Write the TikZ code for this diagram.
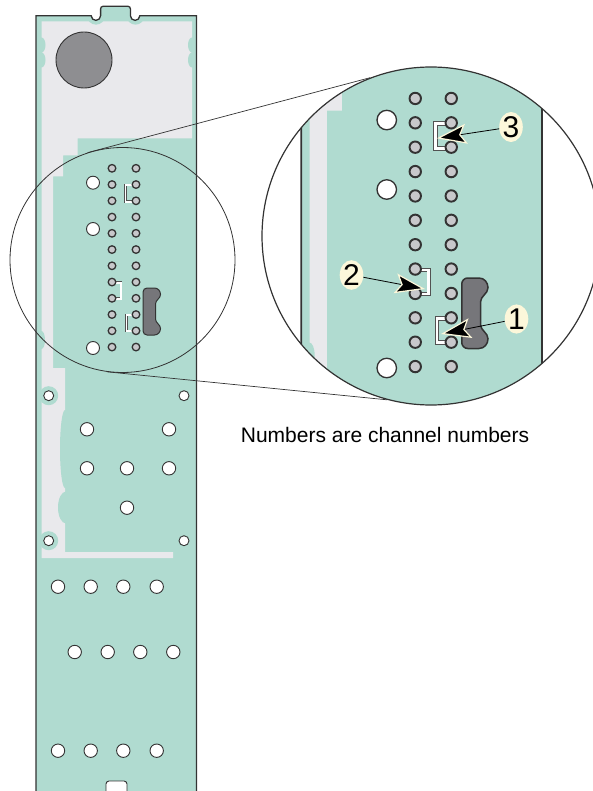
\documentclass[tikz,border=0pt]{standalone}
\usepackage{fontspec}
\setmainfont{Liberation Sans}
\usetikzlibrary{arrows.meta,shapes.geometric}
\definecolor{pcbgreen}{RGB}{176,219,208}
\definecolor{pcbgrey}{RGB}{233,233,236}
\definecolor{edge}{RGB}{51,51,51}
\definecolor{discgrey}{RGB}{142,142,145}
\definecolor{slotgrey}{RGB}{118,118,122}
\definecolor{padgrey}{RGB}{200,200,203}
\definecolor{cream}{RGB}{252,247,218}

\tikzset{
  hole/.style={draw=edge,fill=white,line width=0.9pt},
  pin/.style={draw=edge,fill=padgrey,line width=1.3pt},
  jumper/.style={draw=edge!85,double=white,double distance=1.8pt,line width=0.5pt},
  tag/.style={ellipse,fill=cream,inner sep=0pt,minimum width=21pt,minimum height=28pt,
    font=\fontsize{30}{30}\selectfont},
  callout/.style={-{Stealth[length=30pt,width=20pt,inset=6pt,color=cream,fill=black,line width=1.2pt]},
    black,line width=0.8pt},
  link/.style={edge,line width=0.7pt}
}

\newcommand{\boardpath}{(36,805) -- (36,15.7) -- (91.2,15.7) arc[start angle=180,end angle=0,radius=4.7]
    [rounded corners=2.5] -- (100.6,6.3) -- (130.4,6.3) [sharp corners] -- (130.4,15.7)
    arc[start angle=180,end angle=0,radius=4.7] -- (196.5,15.7) -- (196.5,805)}

\newcommand{\pcb}{%
  \begin{scope}
    \clip \boardpath -- cycle;
    \fill[pcbgreen] \boardpath -- cycle;
    \fill[pcbgrey] (41.5,21.5) -- (192,21.5) -- (192,138.3) -- (77.7,138.3) -- (77.7,155.5)
      -- (63,155.5) -- (63,176.5) -- (53,176.5) -- (53,368) -- (65,368) -- (65,552)
      -- (173,552) -- (173,558) -- (41.5,558) -- cycle;
    \fill[pcbgreen] (96,15.7) circle[radius=9] (135.5,15.7) circle[radius=9]
      (41.5,45) ellipse[x radius=4,y radius=7.5] (41.5,60) ellipse[x radius=4,y radius=7.5]
      (192,45) ellipse[x radius=4,y radius=7.5] (192,60) ellipse[x radius=4,y radius=7.5]
      (41.5,340) ellipse[x radius=3.5,y radius=9]
      (65,449) ellipse[x radius=5,y radius=39] (66,507.5) ellipse[x radius=8,y radius=16]
      (48.7,395.7) circle[radius=9.5] (48.7,540.7) circle[radius=9.5];
  \end{scope}
  \draw[edge,fill=discgrey,line width=0.9pt] (84,60) circle[radius=28];
  \draw[edge,line width=1.3pt] \boardpath;
  \draw[edge,fill=slotgrey,line width=1pt] (147,288) -- (154.5,288) .. controls (158,288) and (160.5,291) .. (160.5,294.5)
    .. controls (160.5,298.5) and (155.5,300) .. (155.5,304) -- (155.5,319)
    .. controls (155.5,323) and (160.5,324.5) .. (160.5,328.5)
    .. controls (160.5,332) and (158,335) .. (154.5,335) -- (147,335)
    .. controls (144.8,335) and (143,333.2) .. (143,331) -- (143,292)
    .. controls (143,289.8) and (144.8,288) .. (147,288) -- cycle;
  \draw[jumper] (136,185) -- (125.5,185) -- (125.5,201.7) -- (136,201.7);
  \draw[jumper] (112,282.7) -- (121,282.7) -- (121,298.7) -- (112,298.7);
  \draw[jumper] (136,315) -- (126.5,315) -- (126.5,331) -- (136,331);
  \foreach \r in {0,...,11}
    \foreach \c in {112,136}
      \draw[pin] (\c,{168.3+16.25*\r}) circle[radius=3.8];
  \foreach \y in {182.7,229,348}
    \draw[hole] (93,\y) circle[radius=6.5];
  \foreach \x/\y in {48.7/395.7,48.7/540.7,184/395.7,184/540.7}
    \draw[hole] (\x,\y) circle[radius=5];
  \foreach \x/\y in {87/429.3,169/429.3,87/468.3,127/468.3,169/468.3,127/507.7}
    \draw[hole] (\x,\y) circle[radius=6.7];
  \foreach \x in {58,90.7,123.3,156.7} {
    \draw[hole] (\x,586.7) circle[radius=6.7];
    \draw[hole] (\x,750.7) circle[radius=6.7];
  }
  \foreach \x in {74.7,107.7,140.3,173.3}
    \draw[hole] (\x,652) circle[radius=6.7];
  \draw[hole,rounded corners=3] (106,805) rectangle (127,781);
}

\begin{document}
\begin{tikzpicture}[x=1pt,y=-1pt]
  \useasboundingbox (0,0) rectangle (592,791);
  \pcb
  \node[circle,draw=edge,line width=0.8pt,inner sep=0pt,minimum size=225pt] (loupe) at (122.5,260) {};
  \begin{scope}
    \clip (431,236) circle[radius=169];
    \fill[white] (431,236) circle[radius=169];
    \begin{scope}[transform canvas={shift={(247.25,-154)},scale=1.5}]
      \pcb
    \end{scope}
  \end{scope}
  \node[circle,draw=edge,line width=1.2pt,inner sep=0pt,minimum size=338pt] (zoomview) at (431,236) {};
  \path[link] (loupe.108) edge (zoomview.111)
              (loupe.262) edge (zoomview.255);
  \node[tag] (ch3) at (511,127) {3};
  \node[tag] (ch2) at (351.5,275) {2};
  \node[tag] (ch1) at (516.5,319) {1};
  \coordinate (j3) at (436.7,138.3);
  \coordinate (j2) at (425,289);
  \coordinate (j1) at (441,334);
  \draw[callout] (ch3) -- (j3);
  \draw[callout] (ch2) -- (j2);
  \draw[callout] (ch1) -- (j1);
  \node[font=\fontsize{21}{25}\selectfont,anchor=base] (note) at (385,442.5) {Numbers are channel numbers};
\end{tikzpicture}
\end{document}
